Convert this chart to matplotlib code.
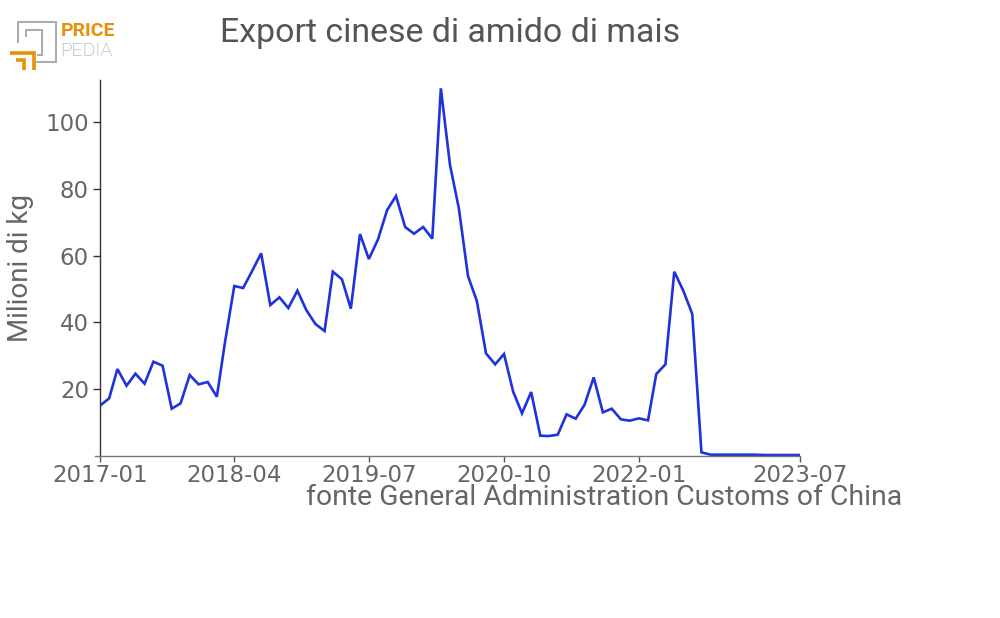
import matplotlib
matplotlib.use("Agg")
import matplotlib.pyplot as plt
import matplotlib.dates as mdates
import pandas as pd

# ---- data ----
start_month = "2017-01"
n_months = 79
values = [15.0, 17.2, 26.0, 21.0, 24.6, 21.6, 28.2, 27.0, 14.1, 15.7,
          24.2, 21.4, 22.1, 17.7, 34.3, 50.9, 50.3, 55.5, 60.7, 45.2,
          47.5, 44.3, 49.5, 43.7, 39.5, 37.4, 55.2, 52.9, 44.1, 66.5,
          59.0, 64.9, 73.7, 77.9, 68.6, 66.6, 68.6, 65.1, 110.2, 87.2,
          74.2, 53.9, 46.4, 30.7, 27.4, 30.5, 19.2, 12.7, 19.1, 6.0,
          5.9, 6.3, 12.4, 11.1, 15.3, 23.5, 13.0, 14.1, 10.9, 10.5,
          11.2, 10.6, 24.5, 27.4, 55.2, 49.4, 42.5, 1.0, 0.3, 0.3,
          0.3, 0.3, 0.3, 0.3, 0.2, 0.2, 0.2, 0.2, 0.2]
tick_labels = ["2017-01", "2018-04", "2019-07", "2020-10", "2022-01", "2023-07"]
y_ticks = [20, 40, 60, 80, 100]
title = "Export cinese di amido di mais"
ylabel = "Milioni di kg"
source = "fonte General Administration Customs of China"

dates = pd.date_range(start_month, periods=n_months, freq="MS")

W, H = 1000, 618
fig = plt.figure(figsize=(W / 100, H / 100), dpi=100)
ax = fig.add_axes([100 / W, 1 - 455.7 / H, 700 / W, (455.7 - 80) / H])

ax.plot(dates, values, color="#1f32dc", lw=1.9, solid_joinstyle="miter")
ax.set_xlim(dates[0], dates[-1])
ax.set_ylim(0, 112.7)

tick_dates = [pd.Timestamp(t) for t in tick_labels]
ax.set_xticks(tick_dates)
ax.set_xticklabels(tick_labels, fontfamily="DejaVu Sans", fontsize=16.5, color="#666666")
ax.set_yticks(y_ticks)
ax.set_yticklabels([str(v) for v in y_ticks], fontfamily="DejaVu Sans", fontsize=16.5, color="#666666")
ax.tick_params(axis="x", length=4, width=1, color="#555555", pad=2)
ax.tick_params(axis="y", length=5, width=1, color="#333333", pad=3)

for s in ["top", "right"]:
    ax.spines[s].set_visible(False)
ax.spines["left"].set_color("#333333")
ax.spines["left"].set_linewidth(1.0)
ax.spines["bottom"].set_color("#777777")
ax.spines["bottom"].set_linewidth(1.0)
x0 = mdates.date2num(dates[0])
ax.spines["bottom"].set_bounds(x0 - 17, mdates.date2num(dates[-1]))

ax.set_ylabel(ylabel, fontfamily="Roboto", fontsize=20, color="#666666", labelpad=8)

fig.text(450 / W, 1 - 33 / H, title, fontfamily="Roboto", fontsize=24.4,
         color="#555555", ha="center", va="center")
fig.text(902 / W, 1 - 505 / H, source, fontfamily="Roboto", fontsize=20.4,
         color="#666666", ha="right", va="baseline")

# ---- logo ----
gray = "#aaaaaa"
orange = "#e8900a"

def seg(xs, ys, color, lw):
    fig.add_artist(plt.Line2D([x / W for x in xs], [1 - y / H for y in ys],
                              color=color, lw=lw, solid_capstyle="butt",
                              solid_joinstyle="miter"))

seg([18, 18, 56, 56, 36], [43, 22, 22, 62, 62], gray, 1.4)
seg([26, 26, 41.5, 41.5, 37], [37, 30, 30, 55, 55], gray, 1.4)
seg([10, 34, 34], [53, 53, 70], orange, 2.6)
seg([16, 24, 24], [60, 60, 70], orange, 2.6)
fig.text(60.5 / W, 1 - 31 / H, "PRICE", fontfamily="Roboto", fontweight="bold",
         fontsize=14, color=orange, ha="left", va="center")
fig.text(60 / W, 1 - 51 / H, "PEDIA", fontfamily="Roboto", fontweight="light",
         fontsize=14, color="#999999", ha="left", va="center")

fig.savefig("out.png", dpi=100, facecolor="white")
